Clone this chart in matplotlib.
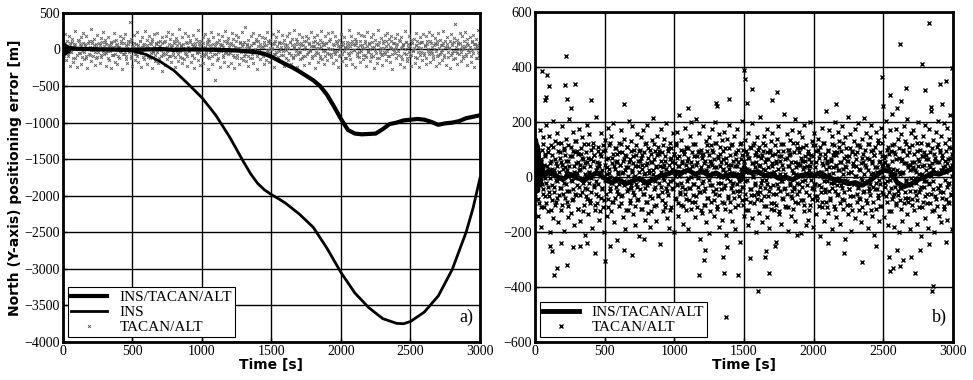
import numpy as np
import matplotlib
matplotlib.use("Agg")
from matplotlib import pyplot as plt

# ---- data ----
# panel a) INS/TACAN/ALT north error
t_fused_a = [0, 10, 20, 30, 40, 50, 100, 200, 300, 400, 500, 600, 700, 800, 900, 1000,
             1100, 1200, 1300, 1400, 1450, 1500, 1550, 1600, 1650, 1700, 1750, 1800, 1850,
             1900, 1950, 2000, 2050, 2100, 2150, 2200, 2250, 2300, 2350, 2400, 2450, 2500,
             2550, 2600, 2650, 2700, 2750, 2800, 2850, 2900, 2950, 3000]
fused_a = [0, 60, -50, 40, -30, 20, 10, 5, 0, 0, -5, 0, 5, -5, 0, 0,
           -5, -10, -20, -40, -60, -100, -150, -200, -245, -300, -360, -420, -500,
           -620, -780, -950, -1100, -1150, -1160, -1155, -1150, -1090, -1020, -1000, -970, -960,
           -950, -960, -990, -1030, -1010, -1000, -980, -940, -920, -900]

# panel a) free INS
t_ins = [0, 100, 200, 300, 400, 500, 600, 700, 800, 900, 1000, 1100, 1200, 1300, 1350, 1400,
         1450, 1500, 1550, 1600, 1700, 1800, 1900, 2000, 2100, 2200, 2300, 2400, 2450, 2500,
         2600, 2700, 2800, 2900, 2950, 3000]
ins = [0, 5, 5, 0, -10, -20, -70, -165, -290, -470, -660, -900, -1200, -1540, -1700, -1830,
       -1920, -1985, -2040, -2100, -2250, -2430, -2720, -3050, -3330, -3530, -3680, -3745, -3750, -3720,
       -3590, -3370, -3010, -2500, -2170, -1760]

# panel a) TACAN/ALT fixes - wide scatter
tacan_a = [
    120, -85, 40, 210, -150, 15, -60, 180, -220, 95, -30, 140, -175, 60, 250, -110, 5, -240, 130, -45,
    75, -195, 165, -20, 230, -130, 50, -90, 190, -260, 25, 110, -70, 280, -155, 85, -5, 145, -210, 35,
    -120, 200, -40, 90, -180, 155, -100, 20, 240, -65, 125, -230, 70, -15, 175, -140, 45, -250, 105, 10,
    -80, 220, -165, 55, 135, -205, 30, -115, 185, -35, 95, -270, 160, -55, 215, -125, 65, -190, 120, -10,
    380, -95, 150, -225, 40, 195, -145, 80, -60, 235, -170, 15, 110, -245, 170, -25, 60, -135, 255, -75,
    130, -200, 25, 180, -110, 70, -260, 145, -40, 205, -160, 90, -5, 225, -185, 50, 115, -85, -300, 165,
    -50, 100, -215, 190, -130, 35, 245, -95, 140, -175, 5, 210, -70, 85, -240, 155, -20, 120, -155, 275,
    -105, 60, 170, -190, 25, -125, 230, -60, 95, -230, 185, -15, 135, -165, 75, -80, 200, -250, 45, 150,
    -35, 260, -140, 80, -210, 120, 10, -180, 165, -90, 215, -55, 100, -270, 140, -120, 55, 235, -195, 20,
    175, -65, -420, 90, -150, 205, -30, 125, -235, 65, 185, -100, 30, -170, 250, -45, 110, -220, 160, -5,
    80, -185, 225, -75, 145, -250, 40, 195, -120, 15, 170, -205, 105, -35, 240, -145, 70, -90, 310, -160,
    55, -230, 130, 20, -110, 185, -60, 220, -190, 95, -15, 150, -265, 115, -50, 200, -130, 35, 175, -85,
    -205, 65, 160, -140, 245, -25, 90, -175, 135, -100, 5, 210, -240, 85, -55, 170, -125, 255, -20, 105,
    -160, 40, 195, -80, 125, -225, 70, -10, 180, -150, 230, -45, 100, -195, 150, -115, 20, 265, -70, 140,
    -245, 75, -30, 215, -135, 60, 175, -95, 120, -210, 35, 190, -60, 155, -185, 90, -15, 240, -120, 50,
    165, -255, 110, -40, 200, -165, 25, 135, -85, 250, -130, 70, -200, 180, -25, 95, -150, 220, -65, 10,
    145, -105, 235, -180, 55, -20, 190, -140, 85, -235, 125, 30, -75, 210, -160, 65, 170, -110, 15, -215,
    100, -50, 260, -125, 45, 185, -195, 80, -5, 150, -240, 115, -90, 225, -35, 60, -170, 200, 20, -135,
    180, -70, 120, -220, 240, -15, 90, -155, 165, -100, 35, 205, -250, 130, -45, 75, -185, 270, -120, 5,
    -60, 155, -210, 110, -30, 195, -145, 50, 230, -90, 140, -175, 25, 185, -265, 95, -10, 160, -115, 65,
    215, -80, 135, -200, 15, 175, -130, 70, -235, 250, -55, 105, -160, 40, 190, -95, 125, -225, 85, -20,
    145, -190, 60, 230, -110, 30, -245, 165, -40, 100, -140, 210, -75, 55, 180, -205, 120, -15, 240, -165,
    90, -50, 195, -125, 10, 155, -230, 75, -95, 220, -180, 135, -30, 65, -150, 250, -70, 115, -210, 40,
    170, -100, 25, -260, 205, -45, 85, -135, 160, 350, -20, 130, -195, 95, -65, 225, -155, 50, 185, -115,
    20, 235, -90, 145, -215, 60, -35, 175, -170, 110, -5, 200, -240, 80, 150, -120, 30, 260, -80, 125,
]
# panel a) TACAN/ALT fixes - dense core
tacan_a_core = [
    40, -65, 85, -20, 110, -95, 15, 60, -40, 100, -115, 30, 75, -80, 5, 120, -50, 45, -105, 90,
    -30, 70, -120, 20, 95, -60, 35, -10, 115, -85, 55, -35, 80, -100, 10, 65, -70, 105, -25, 50,
    100, -45, 25, -110, 60, -15, 90, -75, 40, 120, -55, 5, 70, -95, 30, -20, 110, -65, 85, -40,
    -90, 15, 75, -30, 105, -115, 45, 0, 95, -60, 25, -85, 65, -10, 115, -45, 35, -100, 80, 20,
    55, -105, 10, 85, -50, 120, -20, 40, -80, 70, -35, 100, -120, 50, -5, 90, -70, 25, 110, -55,
    -15, 80, -90, 35, 65, -40, 115, -100, 20, 55, -65, 95, -25, 45, -110, 75, 5, -50, 100, -85,
    30, -10, 105, -75, 50, -120, 85, 15, -45, 120, -30, 60, -95, 10, 90, -60, 40, -15, 70, -105,
    110, -35, 20, -90, 75, 45, -55, 100, -115, 25, 80, -20, 55, -80, 115, -40, 5, 95, -65, 35,
    -50, 90, -5, 60, -100, 30, 120, -70, 15, 85, -110, 50, -25, 105, -60, 20, 75, -95, 40, -15,
    65, -120, 95, -40, 10, 115, -85, 45, -20, 80, -55, 30, 100, -75, 55, -5, 120, -45, 25, -90,
    15, 75, -60, 110, -30, 50, -105, 85, 0, -70, 95, -25, 40, -115, 65, 20, -50, 105, -80, 55,
    -100, 35, 80, -15, 120, -65, 25, -40, 90, -120, 60, 10, -85, 115, -35, 70, -5, 45, -95, 100,
    45, -75, 15, 95, -50, 70, -110, 30, 105, -20, 55, -90, 85, -45, 20, 110, -60, 5, 80, -30,
    -65, 120, -25, 50, -95, 10, 75, -55, 100, -15, 35, -120, 65, 25, -80, 90, -40, 115, -10, 60,
    85, -45, 40, -105, 115, -20, 60, -70, 20, 95, -100, 45, -30, 80, 5, -60, 105, -85, 30, -5,
    -120, 55, 100, -35, 25, -80, 90, 15, -55, 110, -15, 70, -90, 40, 120, -65, 10, 85, -45, 20,
    70, -20, 115, -95, 35, 60, -50, 5, 100, -110, 80, -30, 45, -70, 95, -10, 25, -100, 65, 110,
    -35, 90, -80, 20, 105, -45, 50, -120, 75, 0, -60, 120, -25, 35, -90, 55, 85, -15, 115, -70,
    25, -55, 65, -10, 95, -105, 40, 80, -40, 15, 110, -75, 60, -20, 100, -115, 30, -50, 75, 5,
    95, -30, 10, -85, 120, 50, -65, 85, -5, 40, -95, 105, -45, 70, 20, -120, 55, -35, 90, -60,
]

# panel b) INS/TACAN/ALT north error
t_fused_b = [0, 5, 10, 15, 20, 25, 30, 35, 40, 50, 60, 80, 100,
             150, 200, 250, 300, 350, 400, 450, 500, 550, 600, 650, 700, 750, 800, 850,
             900, 950, 1000, 1050, 1100, 1150, 1200, 1250, 1300, 1350, 1400, 1450,
             1480, 1500, 1520,
             1550, 1600, 1650, 1700, 1750, 1800, 1850, 1900, 1950, 2000, 2050, 2100, 2150,
             2200, 2250, 2300, 2350, 2400, 2450, 2500, 2550, 2600, 2650, 2700, 2750, 2800,
             2850, 2900, 2950, 3000]
fused_b = [0, 135, -40, 115, -50, 90, -30, 60, -20, 40, 20, 10, 25,
           5, -10, 10, 0, -15, 5, 15, -5, -20, -10, -25, -15, -5, -20, -10,
           5, 10, 20, 15, 25, 10, 20, 5, 15, 0, 10, 5,
           -10, 35, 25,
           15, 20, 5, 10, -5, 0, -10, 5, 10, 5, 15, 0, -10, -15,
           -25, -20, -30, -15, 5, 25, 20, -20, -35, -25, -10, 0,
           15, 10, 20, 30]

# panel b) TACAN/ALT fixes - wide scatter
tacan_b = [
    35, -60, 120, -15, 80, -140, 10, 55, -95, 170, -30, 65, -180, 25, 100, -45, 145, -110, 5, 75,
    -70, 190, -20, 40, -125, 90, -55, 150, -5, -200, 60, 115, -85, 30, 205, -150, 15, -35, 130, -100,
    50, -10, 160, -75, 95, -165, 20, 70, -40, 125, -120, 45, 185, -60, 0, 105, -195, 35, 80, -25,
    140, -90, 25, -145, 60, 210, -50, 10, 110, -130, 75, -15, 165, -80, 40, -175, 90, -5, 130, -65,
    15, 95, -115, 55, -35, 175, -160, 30, 85, -55, 145, -20, 65, -100, 120, -210, 50, 5, -70, 190,
    -45, 70, -135, 20, 155, -85, 40, -5, 100, -185, 60, 125, -30, 80, -120, 15, 220, -60, 35, -95,
    110, -25, 50, -155, 85, 5, -75, 160, -40, 25, -110, 95, -200, 45, 135, -15, 65, -140, 10, 180,
    -80, 30, 115, -50, 0, 150, -125, 70, -20, 195, -90, 40, -165, 105, -35, 55, -230, 85, 20, -60,
    125, -105, 45, -10, 170, -70, 15, 90, -145, 60, -30, 140, -190, 25, 75, -50, 110, -120, 35, 205,
    -15, 65, -95, 130, -40, 20, 185, -135, 50, -65, 100, 5, -175, 80, -25, 155, -85, 40, -215, 95,
    60, -45, 145, -115, 30, 80, -20, 170, -60, 10, -155, 120, 45, -90, 190, -30, 70, -130, 15, 100,
    -180, 55, -5, 135, -75, 25, 215, -105, 65, -35, 95, -160, 40, 0, 150, -70, 110, -20, 85, -245,
    20, 175, -55, 90, -125, 35, -10, 140, -95, 60, 195, -40, 15, -150, 105, -65, 45, -185, 125, -15,
    70, -110, 30, 160, -45, 85, -200, 50, 5, 115, -80, 165, -25, 40, -140, 75, 225, -55, 10, -100,
    135, -35, 60, -170, 95, 20, -60, 180, -120, 45, -15, 105, -190, 70, 30, -85, 150, -40, 0, 200,
    -90, 40, 120, -25, 75, -145, 15, 210, -70, 55, -110, 90, -5, 160, -55, 25, -225, 100, 35, -130,
    80, -15, 185, -100, 50, -40, 130, -165, 20, 95, -75, 5, 145, -205, 60, -30, 115, -90, 45, 175,
    -50, 90, -140, 35, 200, -60, 10, 125, -115, 70, -20, 155, -180, 40, 85, -45, 0, 135, -155, 65,
    25, -95, 165, -30, 105, -210, 50, -5, 140, -70, 30, 190, -125, 80, -40, 115, -160, 15, 60, -20,
    150, -75, 40, -190, 90, 10, -50, 175, -100, 55, -15, 120, -235, 65, 30, -85, 205, -35, 100, -140,
    45, 135, -60, 20, -120, 85, -10, 160, -175, 70, 25, -90, 110, -45, 195, -150, 50, 5, -65, 125,
    -30, 80, -200, 55, 145, -80, 15, 100, -130, 40, 220, -55, 70, -20, -165, 95, 30, -105, 150, -40,
    115, -10, 65, -145, 175, -70, 35, 5, -185, 90, -35, 130, -95, 50, 160, -60, 20, -120, 85, -250,
    60, -100, 140, -25, 30, 185, -135, 75, -50, 10, 120, -170, 45, -15, 95, -80, 230, -40, 65, -110,
    -5, 155, -60, 100, -195, 40, 80, -30, 135, -140, 55, -75, 170, 15, -115, 90, -45, 210, -160, 35,
    125, -20, 50, -95, 165, -50, 5, 105, -205, 70, -35, 145, -85, 30, 190, -125, 60, -10, 115, -175,
    40, 85, -155, 25, -65, 200, -100, 55, 15, -40, 130, -180, 75, -25, 160, -70, 35, 95, -135, 10,
    -85, 140, -30, 70, -215, 110, 20, -55, 180, -110, 45, 0, 125, -160, 85, -45, 240, -90, 50, -15,
    100, -130, 35, 170, -75, 60, -20, 150, -190, 80, 15, -105, 115, -50, 200, -145, 40, -30, 90, 165,
    -60, 25, 130, -170, 55, 95, -40, 185, -115, 10, 70, -85, 145, -225, 35, 105, -15, 60, -135, 220,
    75, -45, 155, -100, 20, -195, 90, 40, -70, 130, -25, 175, -150, 65, 5, -90, 115, -40, 195, -120,
    30, 110, -80, 50, -165, 140, -10, 85, -55, 215, -130, 45, -20, 160, -95, 70, -185, 25, 120, -50,
    145, -65, 10, 190, -140, 60, -35, 100, -210, 80, 35, -115, 165, -45, 20, 135, -75, 55, -160, 90,
    -25, 180, -105, 40, 125, -60, 0, 150, -145, 75, -20, 205, -90, 45, 110, -175, 30, -55, 170, -10,
    95, -125, 60, 230, -70, 15, -180, 120, -35, 85, 175, -100, 25, -50, 140, -200, 70, 10, -85, 155,
    -40, 65, -160, 100, 20, -95, 185, -55, 130, -15, 50, -135, 210, -75, 35, 90, -190, 45, 160, -30,
    115, -80, 30, 170, -120, 55, -5, 145, -65, 20, -170, 95, 40, 200, -110, 60, -45, 125, -215, 75,
    10, 150, -90, 45, -35, 190, -150, 80, 25, -60, 120, -185, 65, -20, 175, -95, 35, 240, -125, 50,
    135, -15, 85, -200, 60, -70, 165, 15, -105, 110, -40, 205, -140, 55, 90, -30, 150, -165, 25, 70,
    -55, 195, -115, 40, 125, -80, 20, 180, -155, 65, -25, 140, -95, 225, 35, -60, 105, -190, 45, 165,
]
# panel b) TACAN/ALT fixes - dense core
tacan_b_core = [
    20, -45, 70, -10, 95, -80, 35, 5, -110, 60, -25, 120, -60, 45, -5, 85, -95, 15, 105, -35,
    -70, 50, 10, -120, 80, -30, 110, -55, 25, 65, -90, 40, -15, 125, -65, 0, 90, -40, 55, -100,
    30, -20, 100, -75, 15, 60, -50, 115, -105, 40, 75, -10, 5, -85, 95, -45, 20, 130, -60, 50,
    -30, 85, -115, 25, 45, -65, 105, -5, 70, -125, 35, 10, -40, 90, -80, 55, 120, -20, 15, -95,
    65, -55, 5, 110, -35, 80, -100, 25, -15, 55, 95, -70, 40, -125, 20, 75, -45, 0, 115, -85,
    -10, 100, -60, 35, -110, 70, 15, -40, 125, -20, 50, -90, 85, -5, 30, -75, 105, -50, 60, 10,
    90, -25, 45, -95, 120, -65, 20, 65, -15, 80, -120, 35, 110, -45, 5, 55, -85, 95, -30, 25,
    -55, 75, 0, -105, 40, 115, -35, 60, -80, 20, 100, -10, 70, -115, 45, -60, 90, 15, -40, 125,
    50, -90, 105, -20, 25, -70, 85, -125, 55, 10, -45, 120, -15, 35, -100, 80, 0, -65, 95, 40,
    -35, 60, -85, 115, -5, 45, -110, 75, 30, -50, 95, -25, 20, 65, -120, 105, -40, 55, -10, 85,
    15, -75, 125, -30, 70, -95, 40, 5, -60, 100, -20, 50, -105, 85, 25, -45, 110, -80, 60, -5,
    105, -40, 30, -115, 55, 90, -65, 10, -25, 120, -90, 45, 75, -35, 0, 95, -55, 20, -120, 70,
    -20, 85, -50, 60, -100, 25, 115, -75, 40, -10, 80, -125, 50, 100, -30, 15, -85, 65, 125, -45,
    35, -105, 75, 5, -65, 110, -20, 55, -90, 30, 95, -40, 20, -115, 70, -5, 45, -75, 105, -15,
    -90, 45, -30, 120, -55, 15, 85, -110, 65, -25, 40, 100, -70, 10, -50, 125, -35, 80, -100, 25,
    60, -15, 95, -80, 30, -120, 70, 20, -45, 105, -65, 50, 0, 115, -95, 35, -20, 90, -55, 75,
    -60, 110, -35, 45, -85, 80, -10, 125, -70, 25, 55, -105, 90, -25, 65, -50, 15, 100, -115, 40,
    80, -30, 20, -95, 115, -60, 50, 5, -40, 95, -125, 60, -15, 75, -75, 30, 120, -45, 10, -105,
    -5, 70, -110, 40, 100, -20, 85, -70, 25, -50, 125, -35, 55, -90, 10, 105, -60, 45, -25, 90,
    45, -85, 60, -15, 110, -100, 35, 75, -55, 15, -30, 95, -120, 65, 40, -10, 80, -80, 115, -40,
    -45, 115, -25, 55, -70, 20, 100, -105, 5, 85, -35, 50, -90, 125, -15, 70, -55, 30, -110, 60,
    95, -50, 10, -85, 65, 120, -40, 35, -20, 90, -115, 45, 80, -65, 25, -5, 110, -95, 55, -30,
    -80, 30, 125, -55, 40, -10, 75, -100, 60, 15, -45, 105, -70, 20, 95, -120, 50, -25, 85, 5,
    40, -60, 90, -35, 115, -75, 25, -5, 70, -110, 55, 10, -50, 100, -85, 35, -15, 120, -40, 65,
    -25, 95, -120, 50, 15, -90, 80, -45, 110, -20, 35, -65, 125, -10, 60, -105, 20, 75, -55, 45,
    70, -35, 55, -70, 100, -15, 40, -125, 85, 5, -40, 115, -80, 30, -60, 90, 10, -95, 65, -20,
    -65, 20, 105, -40, 60, -115, 15, 95, -30, 50, -75, 120, -10, 80, -90, 45, 110, -50, 25, -5,
    55, -100, 35, 85, -50, 25, -20, 125, -85, 65, 10, -55, 100, -35, 40, -110, 75, -15, 90, -70,
    -15, 65, -95, 115, -25, 45, 90, -60, 5, 105, -45, 30, -120, 70, 20, -80, 55, 120, -40, 15,
    100, -55, 25, -75, 80, 35, -105, 60, -10, 95, -35, 50, -90, 110, -20, 70, -65, 5, 85, -45,
]

# panel b) TACAN/ALT outliers (time, value)
t_out_b = [50, 90, 100, 70, 80, 220, 215, 290, 230, 260, 400, 640, 1100, 1300, 1310, 1390,
           1500, 1510, 1520, 1560, 1700, 1740, 2160, 2490, 2500, 2550, 2600, 2620, 2630, 2660,
           2780, 2800, 2830, 2840, 2910, 2950, 2990, 2920,
           110, 120, 140, 160, 190, 230, 270, 320, 370, 430, 500, 540, 640, 700, 780, 1180,
           1210, 1220, 1350, 1360, 1370, 1380, 1460, 1540, 1600, 1650, 1660, 1680, 1730, 1880,
           2100, 2220, 2350, 2450, 2540, 2550, 2570, 2600, 2620, 2640, 2700, 2730, 2760, 2850,
           2860, 2830, 2950]
out_b = [385, 370, 330, 280, 290, 440, 335, 340, 285, 250, 280, 265, 250, 270, 260, 285,
         390, 355, 270, 320, 280, 310, 265, 365, 260, 300, 250, 485, 275, 325,
         410, 315, 560, 255, 340, 350, 395, 265,
         -250, -270, -355, -330, -240, -320, -255, -250, -240, -275, -305, -250, -265, -285, -225, -355,
         -300, -265, -290, -350, -510, -255, -355, -295, -415, -290, -270, -350, -235, -210,
         -240, -275, -310, -250, -290, -340, -330, -265, -325, -300, -290, -350, -265, -415,
         -395, -245, -235]

xticks = [0, 500, 1000, 1500, 2000, 2500, 3000]
yticks_a = [-4000, -3500, -3000, -2500, -2000, -1500, -1000, -500, 0, 500]
yticks_b = [-600, -400, -200, 0, 200, 400, 600]

plt.rcParams['font.family'] = ['Liberation Serif', 'DejaVu Serif']
plt.rcParams['font.size'] = 10

fig = plt.figure(figsize=(9.73, 3.8), dpi=100)
ax1 = fig.add_axes([0.0647, 0.1, 0.4286, 0.866])
ax2 = fig.add_axes([0.5498, 0.1, 0.4296, 0.8684])

bold = dict(family='DejaVu Sans', fontweight='bold', fontsize=10)


def style(ax, yticks):
    ax.set_xlim(0, 3000)
    ax.set_ylim(yticks[0], yticks[-1])
    ax.set_xticks(xticks)
    ax.set_yticks(yticks)
    ax.grid(True, color='black', linewidth=1.0)
    ax.set_axisbelow(True)
    for s in ax.spines.values():
        s.set_linewidth(2.0)
    ax.tick_params(direction='in', length=3, width=1, labelsize=10, pad=2)
    ax.set_xlabel('Time [s]', labelpad=0, **bold)


# a)
t_a = np.concatenate([np.linspace(0, 3000, len(tacan_a)),
                      np.linspace(0, 3000, len(tacan_a_core))])
v_a = np.concatenate([tacan_a, tacan_a_core])
ax1.plot(t_a, v_a, 'x', color='#666666', ms=2.0, mew=0.7, label='TACAN/ALT', zorder=2)
ax1.plot(t_ins, ins, color='black', lw=2.0, label='INS', zorder=3)
ax1.plot(t_fused_a, fused_a, color='black', lw=3.0, label='INS/TACAN/ALT', zorder=4)
style(ax1, yticks_a)
ax1.set_ylabel('North (Y-axis) positioning error [m]', labelpad=2, **bold)
h, l = ax1.get_legend_handles_labels()
leg1 = ax1.legend([h[2], h[1], h[0]], [l[2], l[1], l[0]], loc='lower left',
                  fancybox=False, edgecolor='black', framealpha=1, fontsize=11,
                  handlelength=2.4, borderpad=0.2, labelspacing=0.1, borderaxespad=0.3)
leg1.get_frame().set_linewidth(0.8)
ax1.text(0.985, 0.05, 'a)', transform=ax1.transAxes, ha='right', va='bottom', fontsize=13)

# b)
t_b = np.concatenate([np.linspace(0, 3000, len(tacan_b)),
                      np.linspace(0, 3000, len(tacan_b_core)), t_out_b])
v_b = np.concatenate([tacan_b, tacan_b_core, out_b])
ax2.plot(t_b, v_b, 'x', color='black', ms=3.3, mew=1.0, label='TACAN/ALT', zorder=2)
ax2.plot(t_fused_b, fused_b, color='black', lw=3.5, label='INS/TACAN/ALT', zorder=4)
style(ax2, yticks_b)
h, l = ax2.get_legend_handles_labels()
leg2 = ax2.legend([h[1], h[0]], [l[1], l[0]], loc='lower left',
                  fancybox=False, edgecolor='black', framealpha=1, fontsize=11,
                  handlelength=2.4, borderpad=0.2, labelspacing=0.1, borderaxespad=0.3)
leg2.get_frame().set_linewidth(0.8)
ax2.text(0.985, 0.05, 'b)', transform=ax2.transAxes, ha='right', va='bottom', fontsize=13)

fig.savefig('out.png', dpi=100)
